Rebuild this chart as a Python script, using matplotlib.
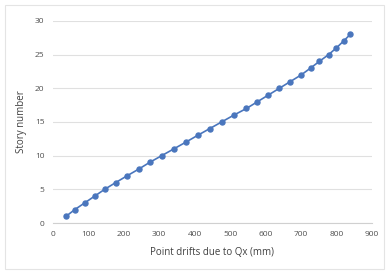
import numpy as np
import matplotlib
matplotlib.use('Agg')
import matplotlib.pyplot as plt

plt.rcParams['font.family'] = ['Open Sans', 'DejaVu Sans']

# Story numbers and point drifts
stories = list(range(1, 29))
drifts = [37, 62, 90, 118, 146, 177, 209, 242, 273, 307, 341, 375, 408,
          442, 476, 510, 546, 577, 608, 639, 670, 701, 727, 752, 778, 800,
          820, 839]

fig = plt.figure(figsize=(3.89, 2.75), dpi=100)
# light frame round the chart area
fig.patches.append(plt.Rectangle((0.012, 0.022), 0.976, 0.96, transform=fig.transFigure,
                                 fill=False, edgecolor='#e4e4e4', linewidth=0.8))
ax = fig.add_axes([0.136, 0.189, 0.820, 0.735])

ax.plot(drifts, stories, color='#4a76bd', linewidth=1.2, marker='o',
        markersize=3.6, markerfacecolor='#4a76bd', markeredgecolor='#4a76bd')

ax.set_xlim(0, 900)
ax.set_ylim(0, 30)
ax.set_xticks(np.arange(0, 901, 100))
ax.set_yticks(np.arange(0, 31, 5))
ax.grid(axis='y', color='#e0e0e0', linewidth=0.8)
ax.set_axisbelow(True)

for s in ['top', 'right', 'left']:
    ax.spines[s].set_visible(False)
ax.spines['bottom'].set_color('#d0d0d0')
ax.tick_params(length=0, labelsize=6, colors='#505050', pad=6)

ax.set_xlabel('Point drifts due to Qx (mm)', fontsize=7, color='#404040', labelpad=6)
ax.set_ylabel('Story number', fontsize=7, color='#404040', labelpad=6)

fig.savefig('out.png', dpi=100)
